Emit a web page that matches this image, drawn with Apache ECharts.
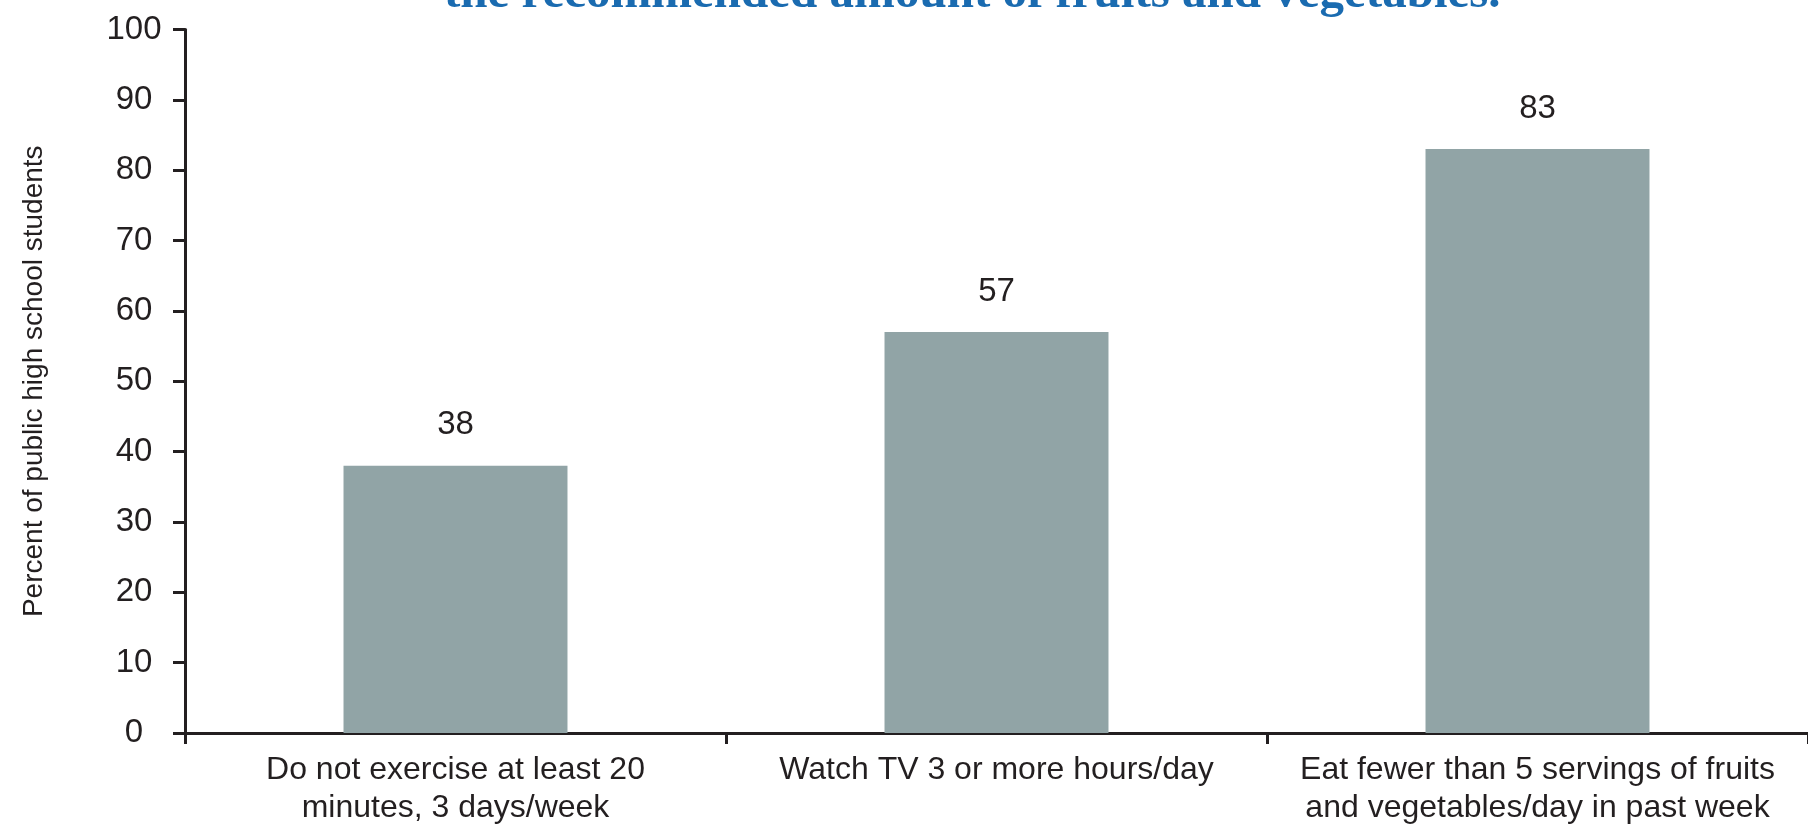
<!DOCTYPE html>
<html>
<head>
<meta charset="utf-8">
<script src="https://cdn.jsdelivr.net/npm/echarts@6/dist/echarts.min.js"></script>
<style>
html,body{margin:0;padding:0;background:#fff;}
#chart{width:1808px;height:827px;}
</style>
</head>
<body>
<div id="chart"></div>
<script>
const categories = [
  'Do not exercise at least 20\nminutes, 3 days/week',
  'Watch TV 3 or more hours/day',
  'Eat fewer than 5 servings of fruits\nand vegetables/day in past week'
];
const percentValues = [38, 57, 83];
const titleText = 'the recommended amount of fruits and vegetables.';
const yAxisTitle = 'Percent of public high school students';

const ink = '#231f20';
const chart = echarts.init(document.getElementById('chart'));
chart.setOption({
  animation: false,
  backgroundColor: '#ffffff',
  graphic: [{
    type: 'text',
    left: 444,
    top: -30,
    style: {
      text: titleText,
      font: 'bold 49px "Liberation Serif", "DejaVu Serif", serif',
      fill: '#1a6bb0'
    }
  }],
  grid: { left: 185, right: 0, top: 29.5, bottom: 93.5, containLabel: false },
  xAxis: {
    type: 'category',
    data: categories,
    axisLine: { lineStyle: { color: ink, width: 3 } },
    axisTick: { show: true, alignWithLabel: false, length: 11, lineStyle: { color: ink, width: 3 } },
    axisLabel: {
      color: ink,
      fontSize: 32,
      lineHeight: 38,
      fontFamily: '"Liberation Sans", Arial, sans-serif',
      margin: 18,
      interval: 0
    }
  },
  yAxis: {
    type: 'value',
    min: 0,
    max: 100,
    interval: 10,
    name: yAxisTitle,
    nameLocation: 'middle',
    nameRotate: 90,
    nameGap: 137,
    nameTextStyle: { color: ink, fontSize: 28, fontFamily: '"Liberation Sans", Arial, sans-serif' },
    splitLine: { show: false },
    axisLine: { show: true, lineStyle: { color: ink, width: 3 } },
    axisTick: { show: true, length: 12, lineStyle: { color: ink, width: 3 } },
    axisLabel: {
      color: ink,
      fontSize: 33,
      fontFamily: '"Liberation Sans", Arial, sans-serif',
      align: 'center',
      margin: 51,
      padding: [0, 0, 14, 0]
    }
  },
  series: [{
    type: 'bar',
    data: percentValues,
    barWidth: '41.4%',
    itemStyle: { color: '#91a4a6' },
    label: {
      show: true,
      position: 'top',
      distance: 24,
      color: ink,
      fontSize: 33,
      fontFamily: '"Liberation Sans", Arial, sans-serif'
    }
  }]
});
</script>
</body>
</html>
